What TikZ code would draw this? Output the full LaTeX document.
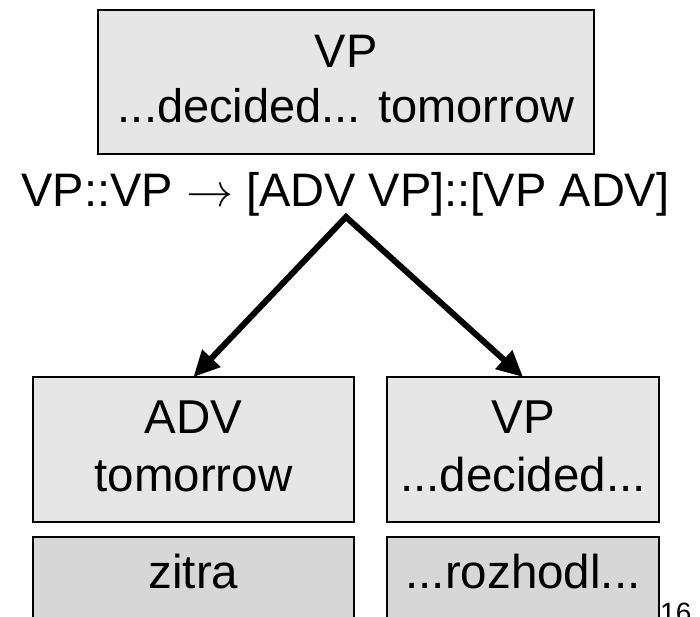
\documentclass[tikz,border=0pt]{standalone}
\usepackage{fontspec}
\setmainfont{Liberation Sans}
\newfontfamily\arrowfont{Latin Modern Math}
\usetikzlibrary{arrows.meta}

\definecolor{srcfill}{HTML}{E6E6E6}
\definecolor{tgtfill}{HTML}{D7D7D7}

\tikzset{
  box/.style={draw=black, line width=1.8pt, fill=srcfill, inner sep=0pt, outer sep=0pt},
  tgtbox/.style={box, fill=tgtfill},
  toptext/.style={anchor=base, inner sep=0pt, font=\fontsize{47}{56}\selectfont},
  ruletext/.style={anchor=base, inner sep=0pt, font=\fontsize{47}{56}\selectfont},
  lowtext/.style={anchor=base, inner sep=0pt, font=\fontsize{47.5}{57}\selectfont},
  derive/.style={line width=6pt, line join=miter,
    {Triangle[length=26pt,width=24pt]}-{Triangle[length=26pt,width=24pt]}},
}

\begin{document}
\begin{tikzpicture}[x=1pt,y=-1pt]
\useasboundingbox (0,0) rectangle (700,616);
\clip (0,0) rectangle (700,616);

% parent constituent
\node[box, minimum width=496pt, minimum height=144pt] (topbox) at (346,82) {};
\node[toptext] (topcat) at (346,67) {VP};
\node[toptext] (topstr) at (346,122) {...decided... tomorrow};

% synchronous rule
\node[ruletext] (rule) at (345.5,206) {VP::VP {\arrowfont →} [ADV VP]::[VP ADV]};
\coordinate (apex) at (346,217);

% source-side children
\node[box, minimum width=321pt, minimum height=145pt] (advbox) at (193.5,449.5) {};
\node[lowtext] (advcat) at (193.5,433) {ADV};
\node[lowtext] (advstr) at (193.5,491) {tomorrow};

\node[box, minimum width=272pt, minimum height=145pt] (vpbox) at (523,449.5) {};
\node[lowtext] (vpcat) at (523,433) {VP};
\node[lowtext] (vpstr) at (523,491) {...decided...};

% target-side strings
\node[tgtbox, minimum width=321pt, minimum height=145pt] (zitrabox) at (193.5,609.5) {};
\node[lowtext] (zitra) at (193.5,588) {zitra};

\node[tgtbox, minimum width=272pt, minimum height=145pt] (rozbox) at (523,609.5) {};
\node[lowtext] (rozhodl) at (523,588) {...rozhodl...};

% derivation arrows
\draw[derive] (advbox.north) -- (apex) -- (vpbox.north);

% page number
\node[anchor=base west, inner sep=0pt, font=\fontsize{28}{34}\selectfont] (pagenum) at (660,622) {16};
\end{tikzpicture}
\end{document}
